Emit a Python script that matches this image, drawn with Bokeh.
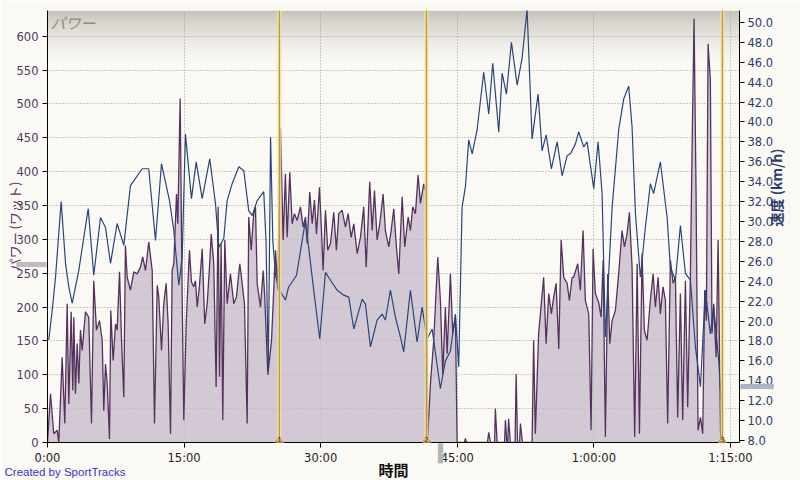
import numpy as np
from bokeh.plotting import figure
from bokeh.models import (Range1d, LinearAxis, FixedTicker, PrintfTickFormatter,
                          Span, Label, Title)
from bokeh.embed import file_html
from bokeh.resources import INLINE

# ---------------- data (time in minutes) ----------------
power_t = [0.00, 0.33, 0.69, 1.07, 1.24, 1.61, 1.90, 2.16, 2.34, 2.60, 2.78, 2.89, 3.07, 3.26, 3.44, 3.62,
           3.81, 4.17, 4.53, 4.83, 5.08, 5.38, 5.71, 6.01, 6.18, 6.37, 6.56, 6.81, 6.95, 7.21, 7.47, 7.65,
           7.91, 8.13, 8.38, 8.56, 8.75, 9.11, 9.48, 9.85, 10.21, 10.46, 10.76, 11.12, 11.50, 11.75, 12.05,
           12.22, 12.52, 12.77, 13.03, 13.25, 13.51, 13.69, 13.87, 14.17, 14.31, 14.57, 14.79, 14.97, 15.23,
           15.59, 15.81, 16.06, 16.25, 16.44, 16.69, 16.99, 17.27, 17.54, 17.79, 17.98, 18.26, 18.52, 18.74,
           18.89, 19.07, 19.25, 19.47, 19.73, 20.09, 20.46, 20.75, 21.12, 21.38, 21.63, 21.93, 22.10, 22.37,
           22.65, 22.84, 23.03, 23.39, 23.69, 23.86, 24.20, 24.60, 25.04, 25.29, 25.59, 25.88, 26.13, 26.32,
           26.61, 26.87, 27.12, 27.42, 27.78, 28.08, 28.33, 28.52, 28.80, 29.07, 29.32, 29.54, 29.87, 30.09,
           30.27, 30.53, 30.78, 31.08, 31.44, 31.73, 31.99, 32.36, 32.72, 33.02, 33.35, 33.64, 34.01, 34.37,
           34.73, 35.00, 35.39, 35.66, 35.91, 36.20, 36.49, 36.86, 37.11, 37.48, 37.74, 38.03, 38.32, 38.58,
           38.95, 39.23, 39.61, 39.86, 40.11, 40.41, 40.70, 40.96, 41.32, 41.58, 41.76, 42.06, 42.42, 42.86,
           43.15, 43.41, 43.70, 43.89, 44.25, 44.51, 44.80, 44.99, 45.80, 45.90, 46.00, 48.32, 48.46, 48.64,
           49.10, 49.19, 49.38, 50.20, 50.29, 50.45, 50.55, 50.64, 50.84, 51.35, 51.47, 51.62, 51.85, 51.94,
           52.16, 53.22, 53.39, 53.58, 53.94, 54.49, 54.76, 55.05, 55.34, 55.60, 55.86, 56.15, 56.41, 56.70,
           57.07, 57.32, 57.62, 57.79, 58.23, 58.52, 58.82, 59.07, 59.44, 59.70, 59.92, 60.17, 60.53, 60.80,
           61.02, 61.27, 61.53, 61.75, 62.01, 62.37, 62.73, 63.10, 63.36, 63.65, 63.91, 64.20, 64.49, 64.76,
           65.01, 65.30, 65.55, 65.85, 66.21, 66.51, 66.76, 67.06, 67.31, 67.60, 67.86, 68.11, 68.41, 68.71,
           68.96, 69.21, 69.51, 69.76, 70.06, 70.31, 70.61, 70.79, 71.01, 71.23, 71.45, 71.71, 71.96, 72.18,
           72.36, 72.55, 72.80, 72.98, 73.17, 73.43, 73.65, 73.92, 74.01]
power_w = [0, 72, 13, 18, 0, 126, 28, 205, 57, 193, 77, 185, 72, 146, 87, 166,
           136, 193, 185, 28, 239, 166, 180, 151, 47, 116, 87, 5, 195, 121, 175, 166,
           252, 151, 67, 291, 244, 225, 252, 249, 259, 274, 254, 296, 254, 28, 232,
           215, 136, 205, 235, 175, 13, 254, 264, 367, 323, 508, 215, 33, 175,
           284, 237, 230, 239, 200, 232, 286, 175, 205, 259, 308, 264, 82, 348,
           97, 294, 33, 299, 205, 249, 205, 215, 264, 235, 205, 28, 333, 284,
           338, 348, 235, 200, 254, 215, 100, 150, 284, 225, 464, 299, 397, 303,
           399, 323, 338, 328, 348, 318, 333, 294, 370, 323, 358, 308, 377, 313,
           254, 343, 284, 294, 340, 284, 338, 343, 318, 338, 303, 323, 279, 303,
           348, 259, 385, 313, 372, 299, 323, 367, 313, 289, 313, 345, 289, 249,
           363, 289, 333, 313, 348, 338, 395, 353, 382, 370, 8, 87, 151, 274,
           210, 101, 200, 131, 249, 161, 185, 0, 0, 6, 0, 0, 15, 0,
           0, 50, 0, 0, 33, 0, 0, 35, 0, 0, 101, 0, 0, 28,
           0, 0, 151, 13, 161, 244, 146, 220, 190, 215, 235, 138, 299, 244,
           235, 210, 244, 244, 264, 225, 313, 210, 190, 18, 286, 220, 207, 185,
           269, 8, 249, 146, 180, 195, 249, 313, 289, 308, 340, 259, 8, 264,
           13, 279, 166, 151, 210, 249, 200, 244, 190, 230, 210, 28, 269, 235,
           244, 37, 220, 33, 239, 52, 249, 432, 626, 367, 18, 37, 13, 225,
           180, 589, 535, 161, 205, 126, 299, 13, 0]

speed_t = [0.14, 0.52, 0.88, 1.50, 1.98, 2.34, 2.71, 3.07, 3.44, 4.47, 5.08, 5.82, 6.37, 6.92, 7.65,
           8.38, 9.11, 10.40, 11.12, 11.86, 12.52, 13.40, 13.87, 14.42, 14.79, 15.15, 15.81, 16.33,
           16.99, 17.82, 18.45, 18.81, 19.36, 19.73, 20.28, 21.01, 21.56, 22.10, 22.48, 23.03, 23.75,
           24.00, 24.25, 24.50, 24.75, 25.06, 25.48, 26.14, 26.47, 27.35, 28.33, 29.24, 29.90, 30.53,
           31.08, 31.81, 32.54, 33.09, 33.64, 34.56, 34.92, 35.47, 36.20, 36.75, 37.11, 37.66, 38.21,
           38.76, 39.12, 39.86, 40.59, 41.14, 41.69, 42.24, 43.15, 43.70, 44.25, 44.80, 45.16, 45.53,
           45.90, 46.26, 46.64, 47.18, 47.91, 48.46, 48.90, 49.56, 49.93, 50.40, 50.95, 51.58, 52.12,
           52.67, 53.22, 53.88, 54.32, 54.76, 55.34, 55.97, 56.52, 57.07, 57.43, 57.98, 58.34, 58.89,
           59.26, 59.99, 60.47, 60.91, 61.27, 62.01, 62.73, 63.28, 63.83, 64.20, 64.57, 65.11, 65.66,
           66.21, 66.57, 67.31, 68.05, 68.41, 68.96, 69.51, 70.06, 70.61, 71.16, 71.71, 72.25, 72.80,
           73.17, 73.72, 73.98]
speed_kmh = [18.1, 21.1, 24.4, 32.0, 25.8, 23.4, 21.8, 23.4, 25.1, 31.3, 24.6, 30.4, 29.4, 25.8, 29.8,
             27.6, 33.6, 35.3, 35.3, 28.1, 35.8, 32.1, 29.1, 23.6, 26.4, 38.8, 32.3, 36.0,
             32.3, 36.3, 31.8, 27.4, 28.3, 32.1, 33.8, 35.5, 35.1, 31.1, 30.6, 32.1, 33.0,
             28.0, 15.2, 38.5, 28.0, 24.5, 23.1, 22.1, 23.4, 24.6, 30.1, 23.1, 18.2, 24.9,
             24.1, 23.1, 22.6, 22.4, 19.2, 22.2, 21.7, 17.4, 20.1, 20.7, 20.1, 23.1, 20.4,
             18.4, 16.9, 23.1, 17.9, 21.4, 18.2, 19.2, 13.2, 16.0, 17.0, 20.7, 15.4, 31.4,
             33.5, 38.2, 36.8, 39.2, 45.0, 40.8, 45.9, 39.0, 44.9, 42.8, 48.0, 43.7, 46.4,
             51.3, 38.3, 42.8, 37.1, 38.7, 35.3, 38.0, 34.6, 36.6, 36.8, 37.8, 39.0, 37.5,
             38.0, 33.3, 38.0, 32.8, 18.4, 31.4, 39.2, 42.3, 43.6, 39.5, 30.8, 24.4, 29.4,
             33.8, 32.8, 36.0, 30.4, 25.4, 24.1, 29.6, 24.8, 24.1, 17.4, 13.4, 23.1, 18.7,
             21.4, 16.0, 12.0]

lap_marks = [25.47, 41.62, 74.12]
lap_labels = ["1", "2", "3"]

x_ticks = [0, 15, 30, 45, 60, 75]
x_tick_labels = ["0:00", "15:00", "30:00", "45:00", "1:00:00", "1:15:00"]
power_ticks = [0, 50, 100, 150, 200, 250, 300, 350, 400, 450, 500, 550, 600]
speed_ticks = [8.0, 10.0, 12.0, 14.0, 16.0, 18.0, 20.0, 22.0, 24.0, 26.0, 28.0, 30.0, 32.0,
               34.0, 36.0, 38.0, 40.0, 42.0, 44.0, 46.0, 48.0, 50.0]

# ---------------- styling ----------------
BG = "#fbf9f4"
POWER_LINE = "#55325e"
POWER_FILL = "#c8bbcb"
SPEED_LINE = "#28467a"
LEFT_TXT = "#4b3b5b"
RIGHT_TXT = "#2b3d6b"
TICK_FONT = "DejaVu Sans"
JP_FONT = "Noto Sans CJK JP"

FL, FT, FR, FB = 47, 10, 739, 442   # frame edges in page pixels

p = figure(width=800, height=480, output_backend="svg", toolbar_location=None,
           x_range=Range1d(0, 76), y_range=Range1d(0, 638),
           min_border_left=FL, min_border_right=800 - FR, min_border_top=FT,
           min_border_bottom=480 - FB,
           background_fill_color=BG, border_fill_color=BG, outline_line_color=None)
p.extra_y_ranges = {"speed": Range1d(7.8, 51.2)}

# top gradient band
n = 60
img = np.zeros((n, 1), dtype=np.uint32)
view = img.view(dtype=np.uint8).reshape((n, 1, 4))
bgc = (251, 249, 244)
topc = (200, 196, 189)
for i in range(n):
    f = (i / (n - 1)) ** 1.5
    view[i, 0, 0] = int(bgc[0] + (topc[0] - bgc[0]) * f)
    view[i, 0, 1] = int(bgc[1] + (topc[1] - bgc[1]) * f)
    view[i, 0, 2] = int(bgc[2] + (topc[2] - bgc[2]) * f)
    view[i, 0, 3] = 255
g0 = 558
p.image_rgba(image=[img], x=0, y=g0, dw=76, dh=638 - g0, level="image")

# grid
p.xgrid.ticker = FixedTicker(ticks=x_ticks[1:])
p.ygrid.ticker = FixedTicker(ticks=power_ticks[1:])
for g in (p.xgrid[0], p.ygrid[0]):
    g.grid_line_color = "#9c9c9c"
    g.grid_line_dash = "1 2"
    g.grid_line_width = 1

# data
p.varea(x=power_t, y1=0, y2=power_w, fill_color=POWER_FILL, fill_alpha=0.78)
p.line(power_t, power_w, line_color=POWER_LINE, line_width=1.3)
p.line(speed_t, speed_kmh, y_range_name="speed", line_color=SPEED_LINE, line_width=1.2)

# axes
xa = p.below[0]
xa.ticker = FixedTicker(ticks=x_ticks)
xa.major_label_overrides = {t: l for t, l in zip(x_ticks, x_tick_labels)}
ya = p.left[0]
ya.ticker = FixedTicker(ticks=power_ticks)
ra = LinearAxis(y_range_name="speed", ticker=FixedTicker(ticks=speed_ticks),
                formatter=PrintfTickFormatter(format="%.1f"))
p.add_layout(ra, "right")

for ax, col in ((xa, "#222222"), (ya, LEFT_TXT), (ra, RIGHT_TXT)):
    ax.axis_line_color = "black"
    ax.axis_line_width = 1
    ax.major_tick_line_color = "black"
    ax.major_tick_out = 5
    ax.major_tick_in = 0
    ax.minor_tick_line_color = None
    ax.major_label_text_font = TICK_FONT
    ax.major_label_text_font_size = "11.5px"
    ax.major_label_text_color = col
xa.major_label_standoff = 3
ya.major_label_standoff = 4
ra.major_label_standoff = 3

# axis titles
ya.axis_label = "パワー (ワット)"
ya.axis_label_text_font = JP_FONT
ya.axis_label_text_font_size = "13px"
ya.axis_label_text_font_style = "normal"
ya.axis_label_text_color = "#5a3464"
ya.axis_label_standoff = -10

ra.axis_label = "速度 (km/h)"
ra.axis_label_text_font = JP_FONT
ra.axis_label_text_font_size = "14px"
ra.axis_label_text_font_style = "bold"
ra.axis_label_text_color = "#2b3d6b"
ra.axis_label_standoff = 0
ra.axis_label_orientation = np.pi / 2

# x-axis title and credit line (titles stacked below the axis)
p.add_layout(Title(text="時間", align="center", vertical_align="top", standoff=-17,
                   text_font=JP_FONT, text_font_size="15px", text_font_style="bold",
                   text_color="#111111"), "below")
p.add_layout(Title(text="Created by SportTracks", align="left", vertical_align="top",
                   standoff=-15, offset=4 - FL, text_font="Liberation Sans",
                   text_font_size="11.5px", text_font_style="normal",
                   text_color="#3535c8"), "below")

# small read-out bars next to the power, speed and time axes
p.add_layout(Title(text="\u2588" * 9, align="left", vertical_align="bottom", standoff=-512,
                   offset=16 - FL, text_font="DejaVu Sans", text_font_size="4.3px",
                   text_font_style="normal", text_color="#c1b8c1"), "above")
p.add_layout(Title(text="\u2588" * 10, align="left", vertical_align="top", standoff=-179,
                   offset=740 - FL, text_font="DejaVu Sans", text_font_size="4.3px",
                   text_font_style="normal", text_color="#a9b3c8"), "below")
p.add_layout(Title(text="\u2588" * 6, align="left", vertical_align="bottom", standoff=-724,
                   offset=443 - FT, text_font="DejaVu Sans", text_font_size="4.3px",
                   text_font_style="normal", text_color="#b4b4b4"), "right")

# vertical lap lines and diamonds
for t, name in zip(lap_marks, lap_labels):
    p.add_layout(Span(location=t, dimension="height", line_color="#f2e2a6",
                      line_width=4, line_alpha=0.8))
    p.add_layout(Span(location=t, dimension="height", line_color="#c29a2a",
                      line_width=1.3))
    p.add_layout(Label(x=t, y=0, x_units="data", y_units="screen", text="\u25c6",
                       text_align="center", text_baseline="middle",
                       text_font="DejaVu Sans", text_font_size="19px", text_color="#7d6020"))
    p.add_layout(Label(x=t, y=0, x_units="data", y_units="screen", text="\u25c6",
                       text_align="center", text_baseline="middle",
                       text_font="DejaVu Sans", text_font_size="15px", text_color="#e8c350"))
    p.add_layout(Label(x=t, y=1, x_units="data", y_units="screen", text=name,
                       text_align="center", text_baseline="bottom",
                       text_font="DejaVu Sans", text_font_size="7px", text_color="#3a2a10"))

# in-chart caption
p.add_layout(Label(x=3, y=FB - FT - 1, x_units="screen", y_units="screen", text="パワー",
                   text_align="left", text_baseline="top", text_font=JP_FONT,
                   text_font_size="15px", text_font_style="italic", text_color="#8e8a84"))

open("out.html", "w").write(file_html(p, INLINE))
